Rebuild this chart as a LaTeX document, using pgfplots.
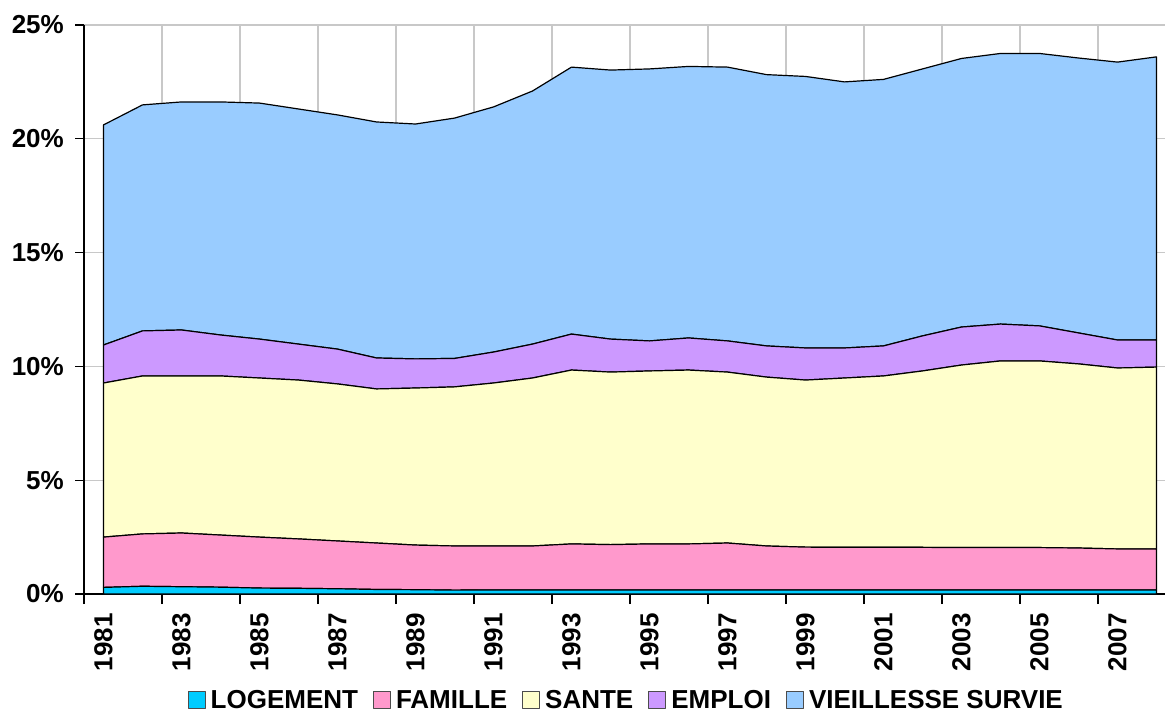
\documentclass[border=0pt]{standalone}
\usepackage{pgfplots}
\usepackage{pgfplotstable}
\pgfplotsset{compat=1.18}
\usepackage{fontspec}
\setmainfont{Liberation Sans}
\newcommand\lab{\fontsize{26}{30}\selectfont\bfseries}
\definecolor{cLog}{HTML}{00CCFF}
\definecolor{cFam}{HTML}{FF99CC}
\definecolor{cSan}{HTML}{FFFFCC}
\definecolor{cEmp}{HTML}{CC99FF}
\definecolor{cVie}{HTML}{99CCFF}
\definecolor{gridgray}{HTML}{C8C8C8}

\pgfplotstableread{
year L F S E V
1981 0.29 2.21 6.77 1.67 9.67
1982 0.34 2.30 6.94 1.98 9.93
1983 0.32 2.36 6.90 2.02 10.02
1984 0.30 2.29 6.99 1.80 10.24
1985 0.26 2.24 6.99 1.71 10.37
1986 0.25 2.17 6.98 1.58 10.33
1987 0.23 2.10 6.90 1.53 10.29
1988 0.20 2.04 6.77 1.36 10.37
1989 0.19 1.96 6.90 1.28 10.32
1990 0.17 1.94 6.99 1.25 10.56
1991 0.18 1.93 7.16 1.36 10.77
1992 0.18 1.93 7.38 1.49 11.12
1993 0.18 2.02 7.64 1.58 11.73
1994 0.18 1.99 7.58 1.45 11.82
1995 0.18 2.02 7.60 1.32 11.95
1996 0.18 2.02 7.64 1.41 11.93
1997 0.18 2.06 7.51 1.37 12.03
1998 0.18 1.93 7.42 1.37 11.92
1999 0.18 1.88 7.34 1.41 11.93
2000 0.18 1.87 7.44 1.32 11.69
2001 0.18 1.87 7.53 1.32 11.71
2002 0.18 1.87 7.75 1.54 11.73
2003 0.18 1.86 8.02 1.67 11.80
2004 0.18 1.86 8.20 1.62 11.89
2005 0.18 1.86 8.20 1.54 11.97
2006 0.18 1.84 8.09 1.36 12.08
2007 0.18 1.80 7.95 1.23 12.21
2008 0.18 1.80 7.99 1.19 12.44
}\data

\begin{document}
\begin{tikzpicture}
\begin{axis}[
  at={(0pt,0pt)}, anchor=origin,
  scale only axis, width=1081pt, height=569pt,
  xmin=1980.5, xmax=2008.218, ymin=0, ymax=25,
  stack plots=y, area style, axis on top=false,
  axis x line*=bottom, axis y line*=left,
  axis line style={-, black, line width=1.2pt},
  xtick={1981,1983,...,2007},
  xticklabels={1981,1983,1985,1987,1989,1991,1993,1995,1997,1999,2001,2003,2005,2007},
  minor xtick={1980.5,1982.5,...,2006.5},
  ytick={0,5,...,25},
  yticklabels={0\%,5\%,10\%,15\%,20\%,25\%},
  tick align=outside,
  major tick length=9pt, minor tick length=10pt,
  major x tick style={draw=none},
  minor x tick style={draw=black, line width=1.2pt},
  major y tick style={draw=black, line width=1.2pt},
  xminorgrids=true, ymajorgrids=true,
  minor x grid style={gridgray, line width=1.2pt},
  major y grid style={gridgray, line width=1.2pt},
  tick label style={font=\lab},
  xticklabel style={rotate=90, anchor=east, inner sep=0pt},
  yticklabel style={anchor=east, inner sep=0pt},
  xticklabel shift=10pt, yticklabel shift=11pt,
  legend style={at={(0.503,-0.1865)}, anchor=center, draw=none, fill=none,
    font=\lab, legend columns=5,
    /tikz/every even column/.append style={column sep=10pt},
    nodes={inner xsep=5pt, inner ysep=0pt}},
  legend image code/.code={\draw[#1, draw=black!70, line width=1pt] (0pt,-8pt) rectangle (17pt,9pt);},
  every axis plot/.append style={draw=black, line width=1.2pt, line join=round},
]
\addplot[fill=cLog] table[x=year,y=L]{\data} \closedcycle;
\addplot[fill=cFam] table[x=year,y=F]{\data} \closedcycle;
\addplot[fill=cSan] table[x=year,y=S]{\data} \closedcycle;
\addplot[fill=cEmp] table[x=year,y=E]{\data} \closedcycle;
\addplot[fill=cVie] table[x=year,y=V]{\data} \closedcycle;
\legend{LOGEMENT,FAMILLE,SANTE,EMPLOI,VIEILLESSE SURVIE}
\end{axis}
\pgfresetboundingbox
\path[use as bounding box] (-84pt,-119pt) rectangle (1081pt,594pt);
\end{tikzpicture}
\end{document}
